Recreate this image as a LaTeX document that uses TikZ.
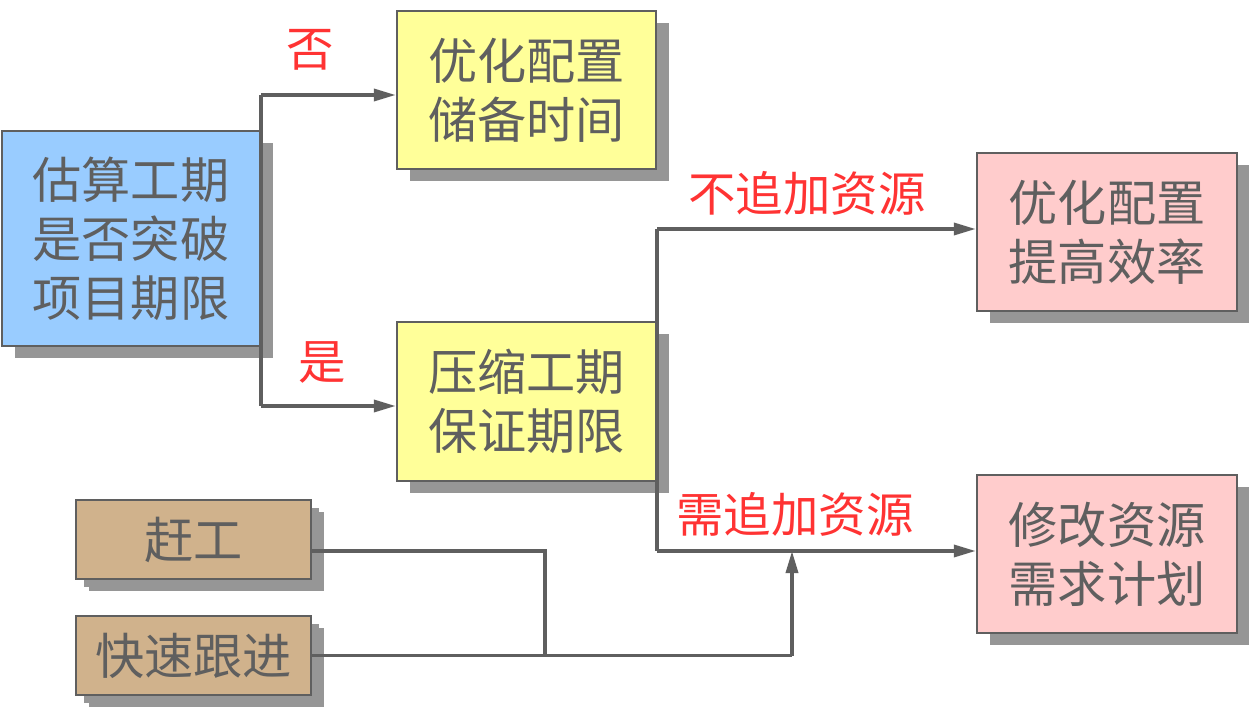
\documentclass[tikz,border=0pt]{standalone}
\usepackage{fontspec}
\setmainfont{Noto Sans CJK SC}
\usetikzlibrary{arrows.meta,shadows}

\definecolor{linegray}{HTML}{5F5F5F}
\definecolor{shadegray}{HTML}{969696}
\definecolor{blueface}{HTML}{99CCFF}
\definecolor{yellowface}{HTML}{FFFF99}
\definecolor{pinkface}{HTML}{FFCCCC}
\definecolor{tanface}{HTML}{D0B28C}
\definecolor{labelred}{HTML}{FF3333}

\begin{document}
\begin{tikzpicture}[x=0.02cm, y=-0.02cm,
    box/.style={draw=linegray, line width=1.4pt, text=linegray, align=center,
        font=\fontsize{28}{33.5}\selectfont, inner sep=0pt,
        drop shadow={shadow xshift=0.26cm, shadow yshift=-0.24cm, fill=shadegray, opacity=1}},
    smallbox/.style={box, drop shadow={shadow xshift=0.16cm, shadow yshift=-0.16cm, fill=shadegray, opacity=1}},
    link/.style={draw=linegray, line width=2pt},
    arr/.style={link, -{Triangle[length=0.44cm, width=0.24cm]}},
    lbl/.style={text=labelred, font=\fontsize{27}{30}\selectfont}]
    \useasboundingbox (0,0) rectangle (1249,714);

    \node[box, fill=blueface, minimum width=5.16cm, minimum height=4.3cm] (est) at (131,238.5) {估算工期\\是否突破\\项目期限};
    \node[box, fill=yellowface, minimum width=5.18cm, minimum height=3.16cm] (opt) at (526.5,90) {优化配置\\储备时间};
    \node[box, fill=yellowface, minimum width=5.18cm, minimum height=3.18cm] (cmp) at (526.5,401.5) {压缩工期\\保证期限};
    \node[box, fill=pinkface, minimum width=5.2cm, minimum height=3.16cm] (eff) at (1107,232) {优化配置\\提高效率};
    \node[box, fill=pinkface, minimum width=5.2cm, minimum height=3.16cm] (res) at (1107,554) {修改资源\\需求计划};
    \node[smallbox, fill=tanface, minimum width=4.7cm, minimum height=1.58cm] (crash) at (193.5,539.5) {赶工};
    \node[smallbox, fill=tanface, minimum width=4.7cm, minimum height=1.58cm] (track) at (193.5,655.5) {快速跟进};

    \coordinate (no in) at ([yshift=-0.1cm]opt.west);
    \coordinate (yes in) at ([yshift=-0.09cm]cmp.west);
    \coordinate (eff in) at ([yshift=0.06cm]eff.west);
    \coordinate (res in) at ([yshift=0.06cm]res.west);
    \coordinate (j1) at (545,655.5);
    \coordinate (j2) at (792,655.5);

    % first decision
    \draw[link] (est.east |- no in) -- (est.east |- yes in);
    \draw[arr] (est.east |- no in) -- (no in);
    \draw[arr] (est.east |- yes in) -- (yes in);

    % resources or not
    \draw[link] (cmp.east |- eff in) -- (cmp.east |- res in);
    \draw[arr] (cmp.east |- eff in) -- (eff in);
    \draw[arr] (cmp.east |- res in) -- (res in);

    % crashing and fast tracking
    \draw[link] (crash.east |- res in) -- (j1 |- res in) -- (j1);
    \draw[link] (track.east) -- (j2);
    \draw[arr] (j2) -- (j2 |- res in);

    \node[lbl] (no) at (310,50) {否};
    \node[lbl] (yes) at (322,362) {是};
    \node[lbl] (noadd) at (807,193) {不追加资源};
    \node[lbl] (add) at (795,514) {需追加资源};
\end{tikzpicture}
\end{document}
